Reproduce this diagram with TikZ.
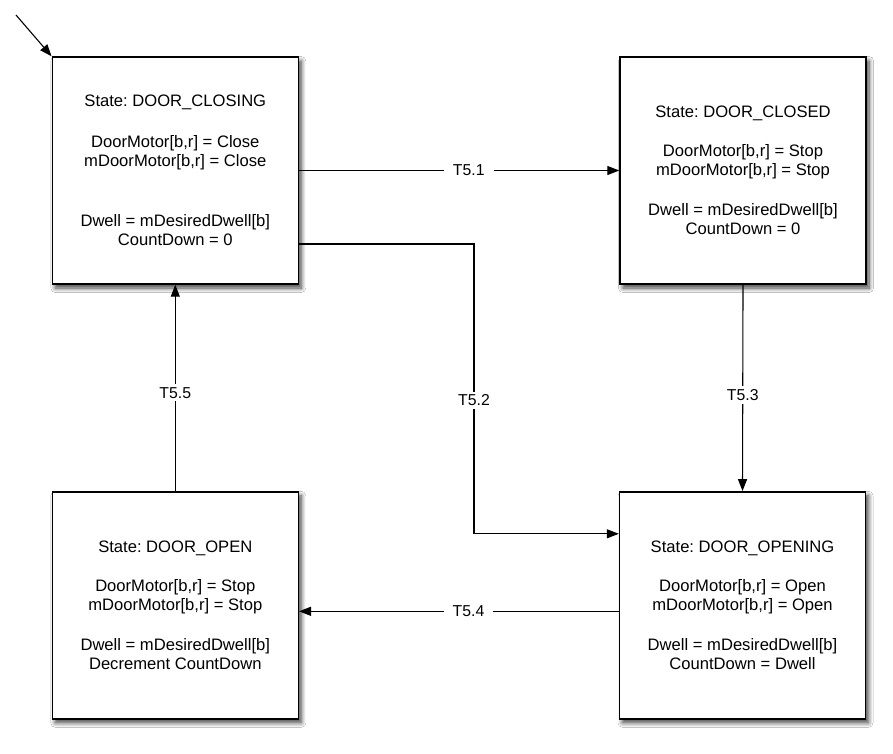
\documentclass[tikz,border=0pt]{standalone}
\usepackage{fontspec}
\setmainfont{Liberation Sans}
\frenchspacing
\usetikzlibrary{arrows.meta,shadows.blur}
\begin{document}
\begin{tikzpicture}[x=1pt,y=-1pt,
  statebox/.style={draw,line width=1.4pt,fill=white,minimum width=246pt,minimum height=227pt,
    align=center,inner sep=0pt,font=\fontsize{16.6}{19}\selectfont,
    blur shadow={shadow xshift=3pt,shadow yshift=-4pt,shadow blur radius=4.5pt,shadow blur steps=8,shadow opacity=75}},
  trans/.style={line width=1.1pt,-{Triangle[length=12pt,width=9pt]}},
  tlabel/.style={fill=white,inner xsep=9pt,inner ysep=3pt,font=\fontsize{15.8}{18}\selectfont}]
\useasboundingbox (0,0) rectangle (893,753);
\fill[white] (0,0) rectangle (893,753);

\node[statebox] (closing) at (175.3,170.5) {State: DOOR\_CLOSING\\[22pt]DoorMotor[b,r] = Close\\mDoorMotor[b,r] = Close\\[41pt]Dwell = mDesiredDwell[b]\\CountDown = 0};
\node[statebox] (closed) at (743,170.5) {State: DOOR\_CLOSED\\[20pt]DoorMotor[b,r] = Stop\\mDoorMotor[b,r] = Stop\\[21pt]Dwell = mDesiredDwell[b]\\CountDown = 0};
\node[statebox] (open) at (175.3,605.3) {State: DOOR\_OPEN\\[20pt]DoorMotor[b,r] = Stop\\mDoorMotor[b,r] = Stop\\[21pt]Dwell = mDesiredDwell[b]\\Decrement CountDown};
\node[statebox] (opening) at (742.5,605.3) {State: DOOR\_OPENING\\[20pt]DoorMotor[b,r] = Open\\mDoorMotor[b,r] = Open\\[21pt]Dwell = mDesiredDwell[b]\\CountDown = Dwell};

% initial transition
\coordinate (init) at (16,15);
\draw[trans] (init) -- (closing.north west);

\draw[trans] (closing.east) -- node[tlabel,pos=0.53] (l51) {T5.1} (closed.west);
\draw[trans] ([yshift=-73.5pt]closing.east) -- ++(175pt,0) |- node[tlabel,pos=0.27] (l52) {T5.2} ([yshift=71.5pt]opening.west);
\draw[trans] (closed.south) -- node[tlabel,pos=0.534] (l53) {T5.3} (opening.north);
\draw[trans] ([yshift=-6pt]opening.west) -- node[tlabel,pos=0.47] (l54) {T5.4} ([yshift=-6pt]open.east);
\draw[trans] (open.north) -- node[tlabel,pos=0.476] (l55) {T5.5} (closing.south);
\end{tikzpicture}
\end{document}
